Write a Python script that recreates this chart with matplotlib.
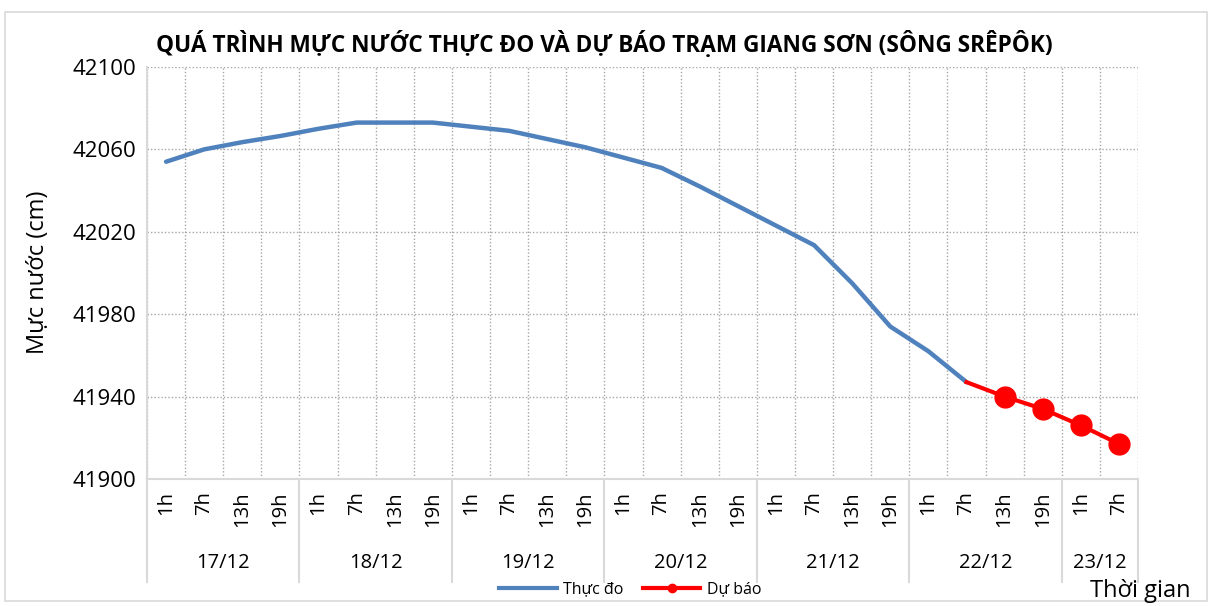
import numpy as np
import matplotlib
matplotlib.use("Agg")
import matplotlib.pyplot as plt
from matplotlib.lines import Line2D
from matplotlib.patches import Rectangle

plt.rcParams["font.family"] = ["Open Sans", "Noto Sans", "DejaVu Sans"]

days = ["17/12", "18/12", "19/12", "20/12", "21/12", "22/12", "23/12"]
hours_per_day = [["1h", "7h", "13h", "19h"]] * 6 + [["1h", "7h"]]
hour_labels = [h for hs in hours_per_day for h in hs]

# observed levels (cm), 17/12 1h .. 22/12 7h
observed = [42054, 42060, 42063.5, 42066.5, 42070, 42073, 42073, 42073,
            42071, 42069, 42065, 42061, 42056, 42051, 42042, 42032.5,
            42023, 42013.5, 41995, 41974, 41962, 41947]
# forecast, starting from last observed point 22/12 7h
forecast = [41947, 41940, 41934, 41926, 41917]

blue = "#4f81bd"
red = "#ff0000"
grey = "#d9d9d9"


def main():
    fig = plt.figure(figsize=(12.12, 6.06), dpi=100)
    ax = fig.add_axes([0.1213, 0.2096, 0.8177, 0.6799])

    x_obs = np.arange(len(observed))
    x_fc = np.arange(len(observed) - 1, len(observed) - 1 + len(forecast))
    n = len(hour_labels)

    ax.plot(x_obs, observed, color=blue, linewidth=3.2, solid_capstyle="round", zorder=3)
    ax.plot(x_fc, forecast, color=red, linewidth=3, zorder=4)
    ax.plot(x_fc[1:], forecast[1:], "o", color=red, markersize=15, zorder=5)

    ax.set_xlim(-0.5, n - 0.5)
    ax.set_ylim(41900, 42100)
    ax.set_yticks(np.arange(41900, 42101, 40))

    ax.set_xticks(np.arange(n))
    ax.set_xticklabels(hour_labels, rotation=90, fontsize=14.5, va="top")
    ax.set_xticks(np.arange(-0.5, n, 0.5), minor=True)
    ax.tick_params(axis="x", which="both", length=0, pad=9)
    ax.tick_params(axis="y", length=0, pad=8, labelsize=16)

    ax.grid(False)
    ax.grid(True, axis="y", which="major", linestyle=(0, (1, 1.5)), color="#a6a6a6", linewidth=1)
    ax.grid(True, axis="x", which="minor", linestyle=(0, (1, 1.5)), color="#a6a6a6", linewidth=1)

    for s in ["top", "right"]:
        ax.spines[s].set_visible(False)
    for s in ["left", "bottom"]:
        ax.spines[s].set_color(grey)
        ax.spines[s].set_linewidth(1.5)

    # second level of the category axis: dates and separators
    trans = ax.get_xaxis_transform()
    start = 0
    for day, hs in zip(days, hours_per_day):
        end = start + len(hs)
        ax.text((start + end - 1) / 2, -0.205, day, transform=trans,
                ha="center", va="center", fontsize=14.5)
        ax.plot([end - 0.5, end - 0.5], [0, -0.25], transform=trans,
                color=grey, linewidth=1.5, clip_on=False)
        start = end
    ax.plot([-0.5, -0.5], [0, -0.25], transform=trans, color=grey,
            linewidth=1.5, clip_on=False)

    fig.text(0.499, 0.926, "QUÁ TRÌNH MỰC NƯỚC THỰC ĐO VÀ DỰ BÁO TRẠM GIANG SƠN (SÔNG SRÊPÔK)",
             ha="center", va="center", fontsize=16.3, fontweight="bold")
    fig.text(0.031, 0.551, "Mực nước (cm)", rotation=90, ha="center", va="center", fontsize=17)
    fig.text(0.982, 0.025, "Thời gian", ha="right", va="center", fontsize=17)

    handles = [Line2D([], [], color=blue, linewidth=3),
               Line2D([], [], color=red, linewidth=3, marker="o", markersize=6)]
    fig.legend(handles, ["Thực đo", "Dự báo"], loc="center", bbox_to_anchor=(0.52, 0.027),
               ncol=2, frameon=False, fontsize=11.5, handlelength=3.6, columnspacing=1.2,
               handletextpad=0.4)

    fig.patches.append(Rectangle((0.004, 0.008), 0.992, 0.972, transform=fig.transFigure,
                                 fill=False, edgecolor=grey, linewidth=1.2))

    fig.savefig("out.png", dpi=100)


if __name__ == "__main__":
    main()
